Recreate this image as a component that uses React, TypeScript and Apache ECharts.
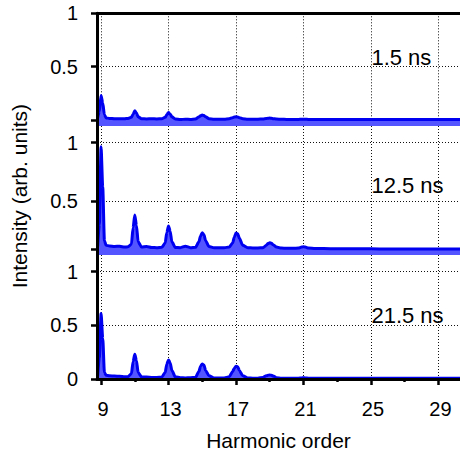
import React, { useEffect, useRef } from "react";
import * as echarts from "echarts";

// Harmonic order sample positions (shared by the three spectra)
const harmonic = [
  8.8, 8.9, 9.0, 9.1, 9.2, 9.3, 9.5, 9.8, 10.1, 10.4, 10.6, 10.8, 10.9, 11.0, 11.1, 11.2, 11.4, 11.7,
  12.0, 12.3, 12.6, 12.8, 12.9, 13.0, 13.1, 13.2, 13.4, 13.7, 14.0, 14.3, 14.6, 14.8, 14.9, 15.0, 15.1,
  15.2, 15.4, 15.7, 16.0, 16.3, 16.6, 16.8, 16.9, 17.0, 17.1, 17.2, 17.4, 17.7, 18.0, 18.3, 18.6, 18.8,
  18.9, 19.0, 19.1, 19.2, 19.4, 19.7, 20.0, 20.4, 20.7, 20.9, 21.0, 21.1, 21.3, 21.7, 22.2, 23.0, 24.0,
  25.0, 26.0, 27.0, 28.0, 29.0, 30.0, 31.0, 32.0,
];

// Intensity at 1.5 ns
const intensity1_5ns = [
  0.02, 0.08, 0.23, 0.16, 0.05, 0.02, 0.015, 0.012, 0.013, 0.012, 0.015, 0.025, 0.055, 0.087, 0.065, 0.03,
  0.012, 0.01, 0.012, 0.01, 0.012, 0.025, 0.05, 0.07, 0.055, 0.03, 0.01, 0.004, 0.008, 0.006, 0.01, 0.028,
  0.04, 0.047, 0.042, 0.03, 0.012, 0.008, 0.008, 0.008, 0.012, 0.022, 0.028, 0.03, 0.028, 0.022, 0.012,
  0.008, 0.007, 0.007, 0.01, 0.014, 0.017, 0.018, 0.016, 0.013, 0.009, 0.007, 0.006, 0.006, 0.006, 0.007,
  0.008, 0.007, 0.006, 0.006, 0.005, 0.005, 0.005, 0.005, 0.005, 0.005, 0.005, 0.005, 0.005, 0.005, 0.005,
];

// Intensity at 12.5 ns
const intensity12_5ns = [
  0.11, 0.3, 0.966, 0.62, 0.16, 0.12, 0.115, 0.11, 0.112, 0.105, 0.108, 0.13, 0.27, 0.38, 0.29, 0.15,
  0.105, 0.11, 0.102, 0.1, 0.103, 0.14, 0.23, 0.286, 0.24, 0.15, 0.102, 0.1, 0.112, 0.1, 0.103, 0.15,
  0.2, 0.228, 0.21, 0.16, 0.11, 0.1, 0.1, 0.1, 0.105, 0.14, 0.19, 0.225, 0.22, 0.18, 0.12, 0.1, 0.098,
  0.098, 0.1, 0.12, 0.135, 0.142, 0.138, 0.125, 0.105, 0.096, 0.095, 0.094, 0.097, 0.105, 0.108, 0.105,
  0.097, 0.093, 0.092, 0.091, 0.09, 0.09, 0.089, 0.089, 0.088, 0.088, 0.088, 0.088, 0.088,
];

// Intensity at 21.5 ns
const intensity21_5ns = [
  0.03, 0.2, 0.61, 0.38, 0.06, 0.035, 0.03, 0.028, 0.025, 0.02, 0.022, 0.05, 0.16, 0.23, 0.17, 0.06,
  0.02, 0.018, 0.015, 0.015, 0.018, 0.06, 0.14, 0.177, 0.15, 0.08, 0.02, 0.012, 0.01, 0.012, 0.015, 0.07,
  0.12, 0.14, 0.13, 0.08, 0.03, 0.01, 0.01, 0.01, 0.02, 0.07, 0.1, 0.12, 0.115, 0.08, 0.03, 0.01, 0.008,
  0.008, 0.015, 0.03, 0.035, 0.037, 0.035, 0.028, 0.012, 0.008, 0.007, 0.007, 0.008, 0.01, 0.012, 0.01,
  0.008, 0.006, 0.006, 0.006, 0.006, 0.006, 0.006, 0.006, 0.006, 0.006, 0.006, 0.006, 0.006,
];

const panelLabels = ["1.5 ns", "12.5 ns", "21.5 ns"];
const xMajorTicks = [9, 13, 17, 21, 25, 29];
const xMinorTicks = [11, 15, 19, 23, 27];
const xAxisTitle = "Harmonic order";
const yAxisTitle = "Intensity (arb. units)";

const FONT = '"Liberation Sans", Arial, Helvetica, sans-serif';
const LINE_COLOR = "#0000f0";
const FILL_COLOR = "#5555ff";
const GRID_LINE = { color: "#111", width: 1, type: [1, 2] as number[] };

export default function App() {
  const ref = useRef<HTMLDivElement>(null);

  useEffect(() => {
    document.body.style.margin = "0";
    if (!ref.current) return;
    const chart = echarts.init(ref.current, undefined, { renderer: "svg" });

    const X_MIN = 8.76;
    const X_MAX = 30.281;

    const panels = [
      { data: intensity1_5ns, top: 13.3, height: 112.7, min: -0.056, max: 1, ticks: [0, 0.5, 1], labels: [0.5, 1], labelY: 0.59 },
      { data: intensity12_5ns, top: 126, height: 129, min: 0.037, max: 1.143, ticks: [0.086, 0.5, 1], labels: [0.5, 1], labelY: 0.637 },
      { data: intensity21_5ns, top: 255, height: 124, min: 0, max: 1.156, ticks: [0, 0.5, 1], labels: [0, 0.5, 1], labelY: 0.596 },
    ];

    const grids: any[] = panels.map((p) => ({
      left: 97, top: p.top, width: 363, height: p.height, outerBoundsMode: "none", containLabel: false,
    }));
    grids.push({ left: 97, top: 13.3, width: 363, height: 365.7, outerBoundsMode: "none", containLabel: false });

    const hiddenBits = {
      axisLine: { show: false, onZero: false },
      axisLabel: { show: false },
    };

    const xAxes: any[] = [
      { type: "value", gridIndex: 0, position: "bottom", min: X_MIN, max: X_MAX, ...hiddenBits,
        axisTick: { show: false, customValues: xMajorTicks }, splitLine: { show: true, lineStyle: GRID_LINE } },
      { type: "value", gridIndex: 0, position: "top", min: X_MIN, max: X_MAX, z: 10,
        axisLine: { show: true, onZero: false, lineStyle: { color: "#000", width: 3 } }, axisLabel: { show: false },
        axisTick: { show: false }, splitLine: { show: false } },
      { type: "value", gridIndex: 1, position: "bottom", min: X_MIN, max: X_MAX, ...hiddenBits,
        axisTick: { show: false, customValues: xMajorTicks }, splitLine: { show: true, lineStyle: GRID_LINE } },
      { type: "value", gridIndex: 2, position: "top", min: X_MIN, max: X_MAX, ...hiddenBits,
        axisTick: { show: false, customValues: xMajorTicks }, splitLine: { show: true, lineStyle: GRID_LINE } },
      { type: "value", gridIndex: 2, position: "bottom", min: X_MIN, max: X_MAX, z: 10,
        axisLine: { show: true, onZero: false, lineStyle: { color: "#000", width: 3 } },
        axisTick: { show: true, customValues: xMajorTicks, length: 6, lineStyle: { color: "#000", width: 2.5 } },
        axisLabel: { show: true, customValues: xMajorTicks, margin: 20, padding: [0, 0, 0, 4], color: "#000", fontSize: 20, fontFamily: FONT },
        splitLine: { show: false } },
      { type: "value", gridIndex: 3, position: "bottom", min: X_MIN, max: X_MAX, z: 10,
        axisLine: { show: false, onZero: false },
        axisTick: { show: true, customValues: xMinorTicks, length: 3, lineStyle: { color: "#000", width: 2.5 } },
        axisLabel: { show: false }, splitLine: { show: false },
        name: xAxisTitle, nameLocation: "middle", nameGap: 51,
        nameTextStyle: { color: "#000", fontSize: 21, fontFamily: FONT } },
    ];

    const yAxes: any[] = [];
    panels.forEach((p, i) => {
      yAxes.push({
        type: "value", gridIndex: i, position: "left", min: p.min, max: p.max, z: 10,
        axisLine: { show: true, onZero: false, lineStyle: { color: "#000", width: 3 } },
        axisTick: { show: true, customValues: p.ticks, length: 6, lineStyle: { color: "#000", width: 2.5 } },
        axisLabel: { show: true, customValues: p.labels, margin: 19, color: "#000", fontSize: 20, fontFamily: FONT },
        splitLine: { show: false },
      });
      yAxes.push({
        type: "value", gridIndex: i, position: "right", min: p.min, max: p.max,
        axisLine: { show: false, onZero: false }, axisLabel: { show: false },
        axisTick: { show: false, customValues: [0.5, 1] },
        splitLine: { show: true, lineStyle: GRID_LINE },
      });
    });
    yAxes.push({
      type: "value", gridIndex: 3, position: "left", min: 0, max: 1,
      axisLine: { show: false, onZero: false }, axisTick: { show: false }, axisLabel: { show: false }, splitLine: { show: false },
      name: yAxisTitle, nameLocation: "middle", nameGap: 67,
      nameTextStyle: { color: "#000", fontSize: 21, fontFamily: FONT },
    });

    const series = panels.map((p, i) => ({
      type: "line",
      xAxisIndex: [0, 2, 4][i],
      yAxisIndex: i * 2,
      data: harmonic.map((h, k) => [h, p.data[k]]),
      showSymbol: false,
      symbol: "none",
      smooth: 0.25,
      smoothMonotone: "x",
      lineStyle: { color: LINE_COLOR, width: 3 },
      areaStyle: { color: FILL_COLOR, opacity: 1, origin: "start" },
      markPoint: {
        symbol: "circle",
        symbolSize: 1,
        itemStyle: { color: "rgba(0,0,0,0)" },
        data: [{ coord: [25, p.labelY], value: panelLabels[i] }],
        label: {
          show: true, position: "right", distance: 0, formatter: panelLabels[i],
          color: "#000", fontSize: 22, fontFamily: FONT,
        },
      },
    }));

    chart.setOption({
      animation: false,
      backgroundColor: "#fff",
      grid: grids,
      xAxis: xAxes,
      yAxis: yAxes,
      series,
    });

    return () => chart.dispose();
  }, []);

  return <div ref={ref} style={{ width: 460, height: 456 }} />;
}
